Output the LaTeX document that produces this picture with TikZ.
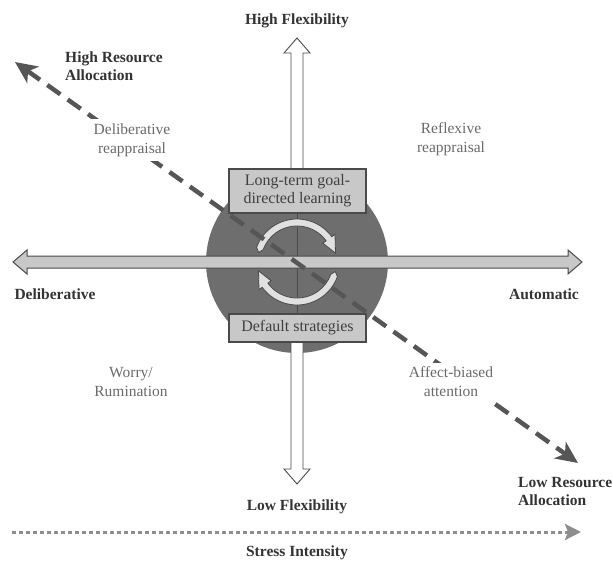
\documentclass[tikz,border=0pt]{standalone}
\usepackage{fontspec}
\setmainfont{Liberation Serif}
\usetikzlibrary{arrows.meta}
\definecolor{discgray}{HTML}{6E6E6E}
\definecolor{boxgray}{HTML}{C8C8C8}
\definecolor{edgegray}{HTML}{4A4A4A}
\definecolor{resgray}{HTML}{565656}
\definecolor{stressgray}{HTML}{8E8E8E}
\definecolor{quadgray}{HTML}{6A6A6A}
\tikzstyle{axislabel} = [font={\fontsize{15.5}{18}\selectfont\bfseries}, text=black!80, align=center, inner sep=1pt]
\tikzstyle{quad} = [font={\fontsize{15.5}{19}\selectfont}, text=quadgray, align=center, inner sep=2pt]
\tikzstyle{cover} = [fill=white, inner sep=4pt]
\tikzstyle{strat} = [draw=edgegray, line width=1.2pt, fill=boxgray, font={\fontsize{16}{18}\selectfont}, text=black!75, align=center, minimum width=137pt, inner sep=0pt]
\tikzstyle{flex} = [draw=edgegray, line width=0.9pt, fill=white]
\tikzstyle{axis} = [draw=edgegray, line width=1pt, fill=boxgray]
\tikzstyle{cyc} = [draw=edgegray, line width=0.8pt, fill=black!12]
\tikzstyle{resource} = [resgray, line width=4.5pt, dash pattern=on 16pt off 9pt, {Stealth[length=22pt, width=20pt, inset=6pt]}-{Stealth[length=22pt, width=20pt, inset=6pt]}]
\tikzstyle{stress} = [stressgray, line width=3pt, dash pattern=on 4pt off 3pt, -{Stealth[length=16pt, width=16pt, inset=3pt]}]

\begin{document}
\begin{tikzpicture}[x=1pt, y=-1pt]
    \useasboundingbox (0,0) rectangle (613,562);
    \coordinate (c) at (297,262);
    % central disc
    \fill[discgray] (c) circle[radius=91pt];
    \draw[edgegray, line width=0.5pt] (297,213) -- (297,314);
    % cycle arrows
    \begin{scope}[shift={(c)}, yscale=-1]
        \filldraw[cyc] (166:39.5) -- (160:43) arc[start angle=160, end angle=36, radius=43] -- (36:47) -- (13:39.5) -- (36:32) -- (36:36) arc[start angle=36, end angle=160, radius=36] -- cycle;
        \filldraw[cyc] (-14:39.5) -- (-20:43) arc[start angle=-20, end angle=-144, radius=43] -- (-144:47) -- (-167:39.5) -- (-144:32) -- (-144:36) arc[start angle=-144, end angle=-20, radius=36] -- cycle;
    \end{scope}
    % axes
    \filldraw[axis] (27,256) -- (568,256) -- (568,250) -- (582,262) -- (568,274) -- (568,268) -- (27,268) -- (27,274) -- (13,262) -- (27,250) -- cycle;
    \filldraw[flex] (291,175) -- (291,53) -- (284,53) -- (297,38) -- (310,53) -- (303,53) -- (303,175) -- cycle;
    \filldraw[flex] (291,336) -- (291,469) -- (284,469) -- (297,484) -- (310,469) -- (303,469) -- (303,336) -- cycle;
    \node[strat, minimum height=44pt](learn) at (297.5,191){Long-term goal-\\directed learning};
    \node[strat, minimum height=28pt](default) at (297.5,328){Default strategies};
    % resource allocation
    \coordinate (hra) at (15,62);
    \coordinate (lra) at (578,463);
    \draw[resource] (hra) -- (lra);
    % stress
    \coordinate (sstart) at (12,532);
    \coordinate (send) at (581,532);
    \draw[stress] (sstart) -- (send);
    % labels
    \node[axislabel](hiflex) at (297,21){High Flexibility};
    \node[axislabel](loflex) at (297,507){Low Flexibility};
    \node[axislabel](delib) at (55,294){Deliberative};
    \node[axislabel](auto) at (544,294){Automatic};
    \node[axislabel, align=left, anchor=west](hires) at (64,66){High Resource\\Allocation};
    \node[axislabel, align=left, anchor=west](lores) at (517,491){Low Resource\\Allocation};
    \node[axislabel](stress) at (297,553){Stress Intensity};
    \node[quad, cover](delrep) at (132,140){Deliberative\\reappraisal};
    \node[quad](refrep) at (451,139){Reflexive\\reappraisal};
    \node[quad](worry) at (131,382){Worry/\\Rumination};
    \node[quad, cover](affect) at (451,382){Affect-biased\\attention};
\end{tikzpicture}
\end{document}
